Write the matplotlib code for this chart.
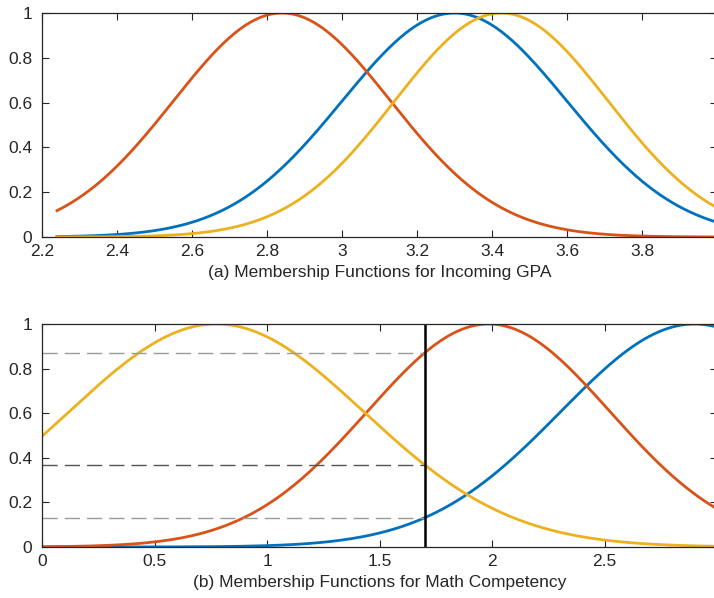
import numpy as np
import matplotlib
matplotlib.use("Agg")
import matplotlib.pyplot as plt
from matplotlib.ticker import FuncFormatter

# MATLAB-style default colours: blue, orange, yellow
colors = ["#0072BD", "#D95319", "#EDB120"]

# (a) incoming GPA membership functions, gaussmf parameters
gpa_range = [2.24, 4.0]
gpa_centers = [3.30, 2.84, 3.425]
gpa_sigmas = [0.30, 0.29, 0.285]

# (b) math competency membership functions
math_range = [0.0, 3.0]
math_centers = [2.90, 1.985, 0.775]
math_sigmas = [0.595, 0.54, 0.655]
math_input = 1.7

gpa_xticks = [2.2, 2.4, 2.6, 2.8, 3.0, 3.2, 3.4, 3.6, 3.8]
math_xticks = [0, 0.5, 1, 1.5, 2, 2.5]
yticks = [0, 0.2, 0.4, 0.6, 0.8, 1]

gpa_title = "(a) Membership Functions for Incoming GPA"
math_title = "(b) Membership Functions for Math Competency"


def gaussmf(x, sigma, c):
    return np.exp(-(x - c) ** 2 / (2 * sigma ** 2))


plt.rcParams['font.family'] = ['Liberation Sans', 'DejaVu Sans']
plt.rcParams['font.size'] = 12.5
text_col = "#262626"

fig = plt.figure(figsize=(7.14, 5.98), dpi=100)
ax1 = fig.add_axes([42 / 714, 1 - 237 / 598, 675 / 714, 224 / 598])
ax2 = fig.add_axes([42 / 714, 1 - 547 / 598, 675 / 714, 223 / 598])

fmt = FuncFormatter(lambda v, p: "%g" % round(v, 6))

x = np.linspace(gpa_range[0], gpa_range[1], 500)
for c, s, col in zip(gpa_centers, gpa_sigmas, colors):
    ax1.plot(x, gaussmf(x, s, c), color=col, lw=2)
ax1.set_xlim(2.2, 4.0)
ax1.set_xticks(gpa_xticks)

x = np.linspace(math_range[0], math_range[1], 500)
for c, s, col in zip(math_centers, math_sigmas, colors):
    ax2.plot(x, gaussmf(x, s, c), color=col, lw=2)

# degrees of membership at the crisp input
levels = [gaussmf(math_input, s, c) for c, s in zip(math_centers, math_sigmas)]
dash_cols = ["#9a9a9a", "#9a9a9a", "#555555"]
for lv, dc in zip(levels, dash_cols):
    ax2.plot([0, math_input], [lv, lv], color=dc, lw=1, dashes=(11, 5))
ax2.plot([math_input, math_input], [0, 1], color="black", lw=1.8)
ax2.set_xlim(0, 3.0)
ax2.set_xticks(math_xticks)

for ax, title in [(ax1, gpa_title), (ax2, math_title)]:
    ax.set_ylim(0, 1)
    ax.set_yticks(yticks)
    ax.xaxis.set_major_formatter(fmt)
    ax.yaxis.set_major_formatter(fmt)
    ax.tick_params(direction="in", length=5, width=0.8, color=text_col,
                   labelcolor=text_col, top=True, right=True)
    ax.tick_params(axis="y", pad=7)
    ax.tick_params(axis="x", pad=5)
    for sp in ax.spines.values():
        sp.set_color(text_col)
        sp.set_linewidth(0.9)
    ax.set_xlabel(title, color=text_col, labelpad=4)

fig.savefig("out.png", dpi=100)
